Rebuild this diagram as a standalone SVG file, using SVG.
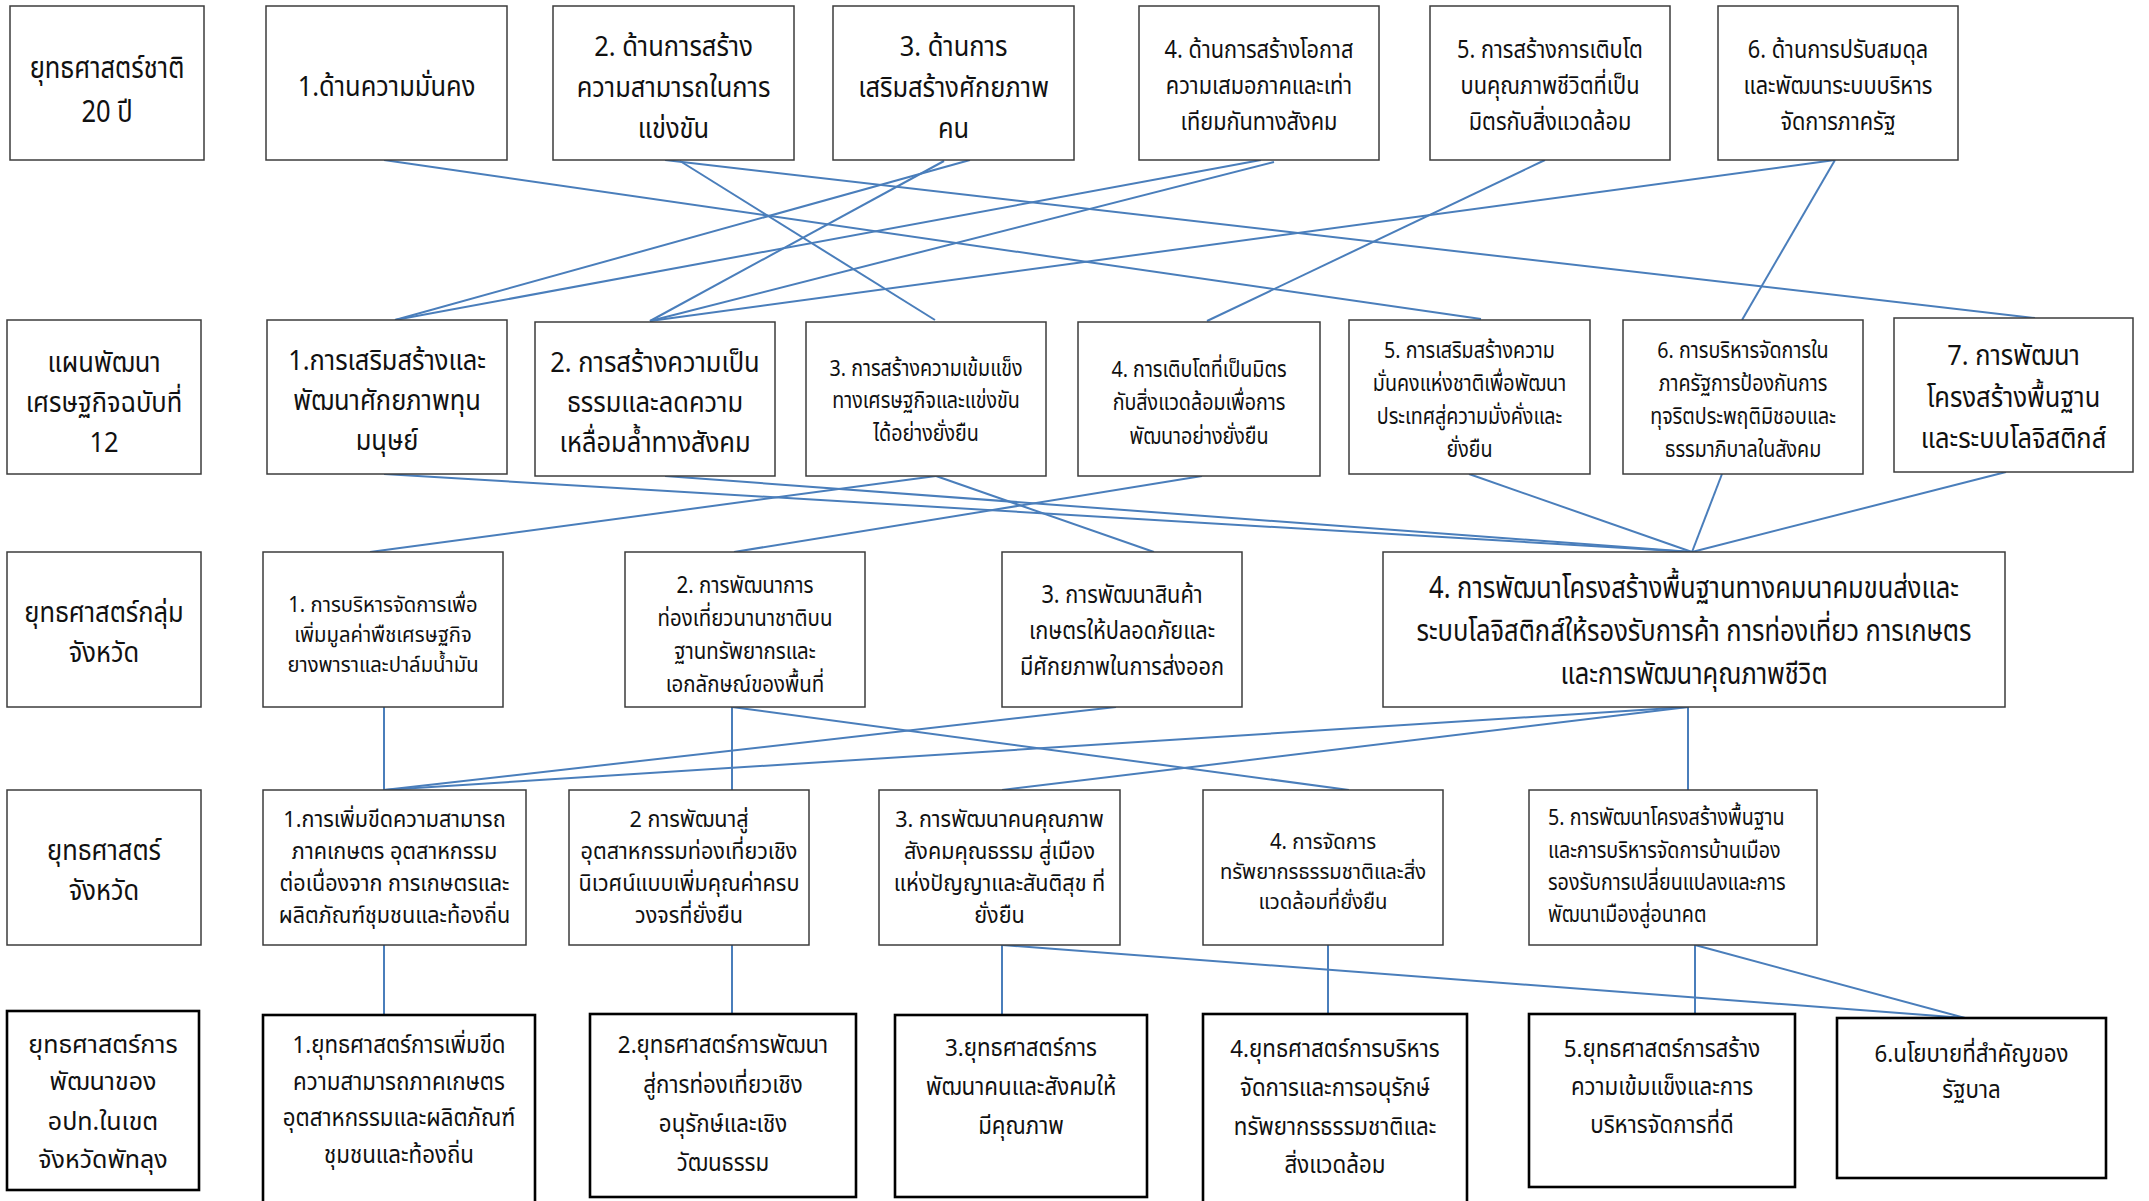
<svg xmlns="http://www.w3.org/2000/svg" width="2149" height="1201" viewBox="0 0 2149 1201">
<style>
.bx{fill:#fff;stroke:#3c3c3c;stroke-width:1.5}
.bk{fill:#fff;stroke:#000;stroke-width:2.6}
.conn line{stroke:#4a7ebb;stroke-width:2;fill:none}
text{font-family:"Noto Sans Thai","Noto Sans","DejaVu Sans",sans-serif;fill:#111;text-anchor:middle}
.a{font-size:30px;transform:scale(.85,1)}
.b{font-size:28px;transform:scale(.91,1)}
.c{font-size:25px;transform:scale(.87,1)}
.d{font-size:24px;transform:scale(.93,1)}
.e{font-size:22.5px;transform:scale(.875,1)}
.f{font-size:22.5px;transform:scale(.96,1)}
.g{font-size:21px;transform:scale(.965,1)}
.h{font-size:23.5px;transform:scale(.87,1)}
.k{font-size:25px;transform:scale(1,1)}
.st{text-anchor:start}
</style>
<rect width="2149" height="1201" fill="#fff"/>
<g class="conn" id="connectors">
<line x1="384" y1="160" x2="1481" y2="319"/>
<line x1="665" y1="160" x2="2035" y2="318"/>
<line x1="680" y1="161" x2="935" y2="320"/>
<line x1="944" y1="161" x2="650" y2="321"/>
<line x1="970" y1="160" x2="395" y2="320"/>
<line x1="1261" y1="160" x2="395" y2="320"/>
<line x1="1274" y1="162" x2="650" y2="321"/>
<line x1="1545" y1="160" x2="1207" y2="321"/>
<line x1="1835" y1="160" x2="650" y2="321"/>
<line x1="1835" y1="160" x2="1742" y2="320"/>
<line x1="384" y1="474" x2="1692" y2="552"/>
<line x1="665" y1="476" x2="1692" y2="552"/>
<line x1="936" y1="476" x2="370" y2="552"/>
<line x1="936" y1="476" x2="1154" y2="552"/>
<line x1="1202" y1="476" x2="734" y2="552"/>
<line x1="1469" y1="474" x2="1692" y2="552"/>
<line x1="1722" y1="474" x2="1692" y2="552"/>
<line x1="2006" y1="472" x2="1692" y2="552"/>
<line x1="384" y1="707" x2="384" y2="790"/>
<line x1="732" y1="707" x2="732" y2="790"/>
<line x1="732" y1="707" x2="1349" y2="790"/>
<line x1="1116" y1="707" x2="384" y2="790"/>
<line x1="1688" y1="707" x2="384" y2="790"/>
<line x1="1688" y1="707" x2="1002" y2="790"/>
<line x1="1688" y1="707" x2="1688" y2="790"/>
<line x1="384" y1="945" x2="384" y2="1015"/>
<line x1="732" y1="945" x2="732" y2="1014"/>
<line x1="1002" y1="945" x2="1002" y2="1015"/>
<line x1="1002" y1="945" x2="1965" y2="1018"/>
<line x1="1328" y1="945" x2="1328" y2="1014"/>
<line x1="1695" y1="945" x2="1695" y2="1014"/>
<line x1="1695" y1="945" x2="1965" y2="1018"/>
</g>

<g id="A"><rect class="bx" x="10" y="6" width="194" height="154"/><g transform="translate(107 0)"><text class="a"><tspan x="0" y="78">ยุทธศาสตร์ชาติ</tspan><tspan x="0" y="122">20 ปี</tspan></text></g></g>
<g id="B1"><rect class="bx" x="266" y="6" width="241" height="154"/><g transform="translate(386.5 0)"><text class="b"><tspan x="0" y="96">1.ด้านความมั่นคง</tspan></text></g></g>
<g id="B2"><rect class="bx" x="553" y="6" width="241" height="154"/><g transform="translate(673.5 0)"><text class="b"><tspan x="0" y="56">2. ด้านการสร้าง</tspan><tspan x="0" y="97">ความสามารถในการ</tspan><tspan x="0" y="138">แข่งขัน</tspan></text></g></g>
<g id="B3"><rect class="bx" x="833" y="6" width="241" height="154"/><g transform="translate(953.5 0)"><text class="b"><tspan x="0" y="56">3. ด้านการ</tspan><tspan x="0" y="97">เสริมสร้างศักยภาพ</tspan><tspan x="0" y="138">คน</tspan></text></g></g>
<g id="B4"><rect class="bx" x="1139" y="6" width="240" height="154"/><g transform="translate(1259 0)"><text class="c"><tspan x="0" y="58">4. ด้านการสร้างโอกาส</tspan><tspan x="0" y="94">ความเสมอภาคและเท่า</tspan><tspan x="0" y="130">เทียมกันทางสังคม</tspan></text></g></g>
<g id="B5"><rect class="bx" x="1430" y="6" width="240" height="154"/><g transform="translate(1550 0)"><text class="c"><tspan x="0" y="58">5. การสร้างการเติบโต</tspan><tspan x="0" y="94">บนคุณภาพชีวิตที่เป็น</tspan><tspan x="0" y="130">มิตรกับสิ่งแวดล้อม</tspan></text></g></g>
<g id="B6"><rect class="bx" x="1718" y="6" width="240" height="154"/><g transform="translate(1838 0)"><text class="c"><tspan x="0" y="58">6. ด้านการปรับสมดุล</tspan><tspan x="0" y="94">และพัฒนาระบบบริหาร</tspan><tspan x="0" y="130">จัดการภาครัฐ</tspan></text></g></g>

<g id="L2"><rect class="bx" x="7" y="320" width="194" height="154"/><g transform="translate(104 0)"><text class="b"><tspan x="0" y="372">แผนพัฒนา</tspan><tspan x="0" y="412">เศรษฐกิจฉบับที่</tspan><tspan x="0" y="452">12</tspan></text></g></g>
<g id="C1"><rect class="bx" x="267" y="320" width="240" height="154"/><g transform="translate(387 0)"><text class="b"><tspan x="0" y="370">1.การเสริมสร้างและ</tspan><tspan x="0" y="410">พัฒนาศักยภาพทุน</tspan><tspan x="0" y="450">มนุษย์</tspan></text></g></g>
<g id="C2"><rect class="bx" x="535" y="322" width="240" height="154"/><g transform="translate(655 0)"><text class="b"><tspan x="0" y="372">2. การสร้างความเป็น</tspan><tspan x="0" y="412">ธรรมและลดความ</tspan><tspan x="0" y="452">เหลื่อมล้ำทางสังคม</tspan></text></g></g>
<g id="C3"><rect class="bx" x="806" y="322" width="240" height="154"/><g transform="translate(926 0)"><text class="e"><tspan x="0" y="376">3. การสร้างความเข้มแข็ง</tspan><tspan x="0" y="408">ทางเศรษฐกิจและแข่งขัน</tspan><tspan x="0" y="441">ได้อย่างยั่งยืน</tspan></text></g></g>
<g id="C4"><rect class="bx" x="1078" y="322" width="242" height="154"/><g transform="translate(1199 0)"><text class="e"><tspan x="0" y="377">4. การเติบโตที่เป็นมิตร</tspan><tspan x="0" y="410">กับสิ่งแวดล้อมเพื่อการ</tspan><tspan x="0" y="444">พัฒนาอย่างยั่งยืน</tspan></text></g></g>
<g id="C5"><rect class="bx" x="1349" y="320" width="241" height="154"/><g transform="translate(1469.5 0)"><text class="e"><tspan x="0" y="358">5. การเสริมสร้างความ</tspan><tspan x="0" y="391">มั่นคงแห่งชาติเพื่อพัฒนา</tspan><tspan x="0" y="424">ประเทศสู่ความมั่งคั่งและ</tspan><tspan x="0" y="457">ยั่งยืน</tspan></text></g></g>
<g id="C6"><rect class="bx" x="1623" y="320" width="240" height="154"/><g transform="translate(1743 0)"><text class="e"><tspan x="0" y="358">6. การบริหารจัดการใน</tspan><tspan x="0" y="391">ภาครัฐการป้องกันการ</tspan><tspan x="0" y="424">ทุจริตประพฤติมิชอบและ</tspan><tspan x="0" y="457">ธรรมาภิบาลในสังคม</tspan></text></g></g>
<g id="C7"><rect class="bx" x="1894" y="318" width="239" height="154"/><g transform="translate(2013.5 0)"><text class="b"><tspan x="0" y="365">7. การพัฒนา</tspan><tspan x="0" y="407">โครงสร้างพื้นฐาน</tspan><tspan x="0" y="448">และระบบโลจิสติกส์</tspan></text></g></g>

<g id="L3"><rect class="bx" x="7" y="552" width="194" height="155"/><g transform="translate(104 0)"><text class="b"><tspan x="0" y="622">ยุทธศาสตร์กลุ่ม</tspan><tspan x="0" y="662">จังหวัด</tspan></text></g></g>
<g id="D1"><rect class="bx" x="263" y="552" width="240" height="155"/><g transform="translate(383 0)"><text class="g"><tspan x="0" y="612">1. การบริหารจัดการเพื่อ</tspan><tspan x="0" y="642">เพิ่มมูลค่าพืชเศรษฐกิจ</tspan><tspan x="0" y="672">ยางพาราและปาล์มน้ำมัน</tspan></text></g></g>
<g id="D2"><rect class="bx" x="625" y="552" width="240" height="155"/><g transform="translate(745 0)"><text class="h"><tspan x="0" y="593">2. การพัฒนาการ</tspan><tspan x="0" y="626">ท่องเที่ยวนานาชาติบน</tspan><tspan x="0" y="659">ฐานทรัพยากรและ</tspan><tspan x="0" y="692">เอกลักษณ์ของพื้นที่</tspan></text></g></g>
<g id="D3"><rect class="bx" x="1002" y="552" width="240" height="155"/><g transform="translate(1122 0)"><text class="c"><tspan x="0" y="603">3. การพัฒนาสินค้า</tspan><tspan x="0" y="639">เกษตรให้ปลอดภัยและ</tspan><tspan x="0" y="675">มีศักยภาพในการส่งออก</tspan></text></g></g>
<g id="D4"><rect class="bx" x="1383" y="552" width="622" height="155"/><g transform="translate(1694 0)"><text class="a"><tspan x="0" y="598">4. การพัฒนาโครงสร้างพื้นฐานทางคมนาคมขนส่งและ</tspan><tspan x="0" y="641">ระบบโลจิสติกส์ให้รองรับการค้า การท่องเที่ยว การเกษตร</tspan><tspan x="0" y="684">และการพัฒนาคุณภาพชีวิต</tspan></text></g></g>

<g id="L4"><rect class="bx" x="7" y="790" width="194" height="155"/><g transform="translate(104 0)"><text class="b"><tspan x="0" y="860">ยุทธศาสตร์</tspan><tspan x="0" y="900">จังหวัด</tspan></text></g></g>
<g id="E1"><rect class="bx" x="263" y="790" width="263" height="155"/><g transform="translate(394.5 0)"><text class="f"><tspan x="0" y="827">1.การเพิ่มขีดความสามารถ</tspan><tspan x="0" y="859">ภาคเกษตร อุตสาหกรรม</tspan><tspan x="0" y="891">ต่อเนื่องจาก การเกษตรและ</tspan><tspan x="0" y="923">ผลิตภัณฑ์ชุมชนและท้องถิ่น</tspan></text></g></g>
<g id="E2"><rect class="bx" x="569" y="790" width="240" height="155"/><g transform="translate(689 0)"><text class="f"><tspan x="0" y="827">2 การพัฒนาสู่</tspan><tspan x="0" y="859">อุตสาหกรรมท่องเที่ยวเชิง</tspan><tspan x="0" y="891">นิเวศน์แบบเพิ่มคุณค่าครบ</tspan><tspan x="0" y="923">วงจรที่ยั่งยืน</tspan></text></g></g>
<g id="E3"><rect class="bx" x="879" y="790" width="241" height="155"/><g transform="translate(999.5 0)"><text class="f"><tspan x="0" y="827">3. การพัฒนาคนคุณภาพ</tspan><tspan x="0" y="859">สังคมคุณธรรม สู่เมือง</tspan><tspan x="0" y="891">แห่งปัญญาและสันติสุข ที่</tspan><tspan x="0" y="923">ยั่งยืน</tspan></text></g></g>
<g id="E4"><rect class="bx" x="1203" y="790" width="240" height="155"/><g transform="translate(1323 0)"><text class="g"><tspan x="0" y="849">4. การจัดการ</tspan><tspan x="0" y="879">ทรัพยากรธรรมชาติและสิ่ง</tspan><tspan x="0" y="909">แวดล้อมที่ยั่งยืน</tspan></text></g></g>
<g id="E5"><rect class="bx" x="1529" y="790" width="288" height="155"/><g transform="translate(1548 0)"><text class="e st"><tspan x="0" y="825">5. การพัฒนาโครงสร้างพื้นฐาน</tspan><tspan x="0" y="858">และการบริหารจัดการบ้านเมือง</tspan><tspan x="0" y="890">รองรับการเปลี่ยนแปลงและการ</tspan><tspan x="0" y="922">พัฒนาเมืองสู่อนาคต</tspan></text></g></g>

<g id="L5"><rect class="bk" x="7" y="1011" width="192" height="179"/><g transform="translate(103 0)"><text class="k"><tspan x="0" y="1053">ยุทธศาสตร์การ</tspan><tspan x="0" y="1090">พัฒนาของ</tspan><tspan x="0" y="1130">อปท.ในเขต</tspan><tspan x="0" y="1168">จังหวัดพัทลุง</tspan></text></g></g>
<g id="F1"><rect class="bk" x="263" y="1015" width="272" height="200"/><g transform="translate(399 0)"><text class="d"><tspan x="0" y="1053">1.ยุทธศาสตร์การเพิ่มขีด</tspan><tspan x="0" y="1090">ความสามารถภาคเกษตร</tspan><tspan x="0" y="1126">อุตสาหกรรมและผลิตภัณฑ์</tspan><tspan x="0" y="1163">ชุมชนและท้องถิ่น</tspan></text></g></g>
<g id="F2"><rect class="bk" x="590" y="1014" width="266" height="183"/><g transform="translate(723 0)"><text class="d"><tspan x="0" y="1053">2.ยุทธศาสตร์การพัฒนา</tspan><tspan x="0" y="1093">สู่การท่องเที่ยวเชิง</tspan><tspan x="0" y="1132">อนุรักษ์และเชิง</tspan><tspan x="0" y="1171">วัฒนธรรม</tspan></text></g></g>
<g id="F3"><rect class="bk" x="895" y="1015" width="252" height="182"/><g transform="translate(1021 0)"><text class="d"><tspan x="0" y="1056">3.ยุทธศาสตร์การ</tspan><tspan x="0" y="1095">พัฒนาคนและสังคมให้</tspan><tspan x="0" y="1134">มีคุณภาพ</tspan></text></g></g>
<g id="F4"><rect class="bk" x="1203" y="1014" width="264" height="200"/><g transform="translate(1335 0)"><text class="d"><tspan x="0" y="1057">4.ยุทธศาสตร์การบริหาร</tspan><tspan x="0" y="1096">จัดการและการอนุรักษ์</tspan><tspan x="0" y="1135">ทรัพยากรธรรมชาติและ</tspan><tspan x="0" y="1173">สิ่งแวดล้อม</tspan></text></g></g>
<g id="F5"><rect class="bk" x="1529" y="1014" width="266" height="173"/><g transform="translate(1662 0)"><text class="d"><tspan x="0" y="1057">5.ยุทธศาสตร์การสร้าง</tspan><tspan x="0" y="1095">ความเข้มแข็งและการ</tspan><tspan x="0" y="1133">บริหารจัดการที่ดี</tspan></text></g></g>
<g id="F6"><rect class="bk" x="1837" y="1018" width="269" height="160"/><g transform="translate(1971.5 0)"><text class="d"><tspan x="0" y="1062">6.นโยบายที่สำคัญของ</tspan><tspan x="0" y="1098">รัฐบาล</tspan></text></g></g>
</svg>
